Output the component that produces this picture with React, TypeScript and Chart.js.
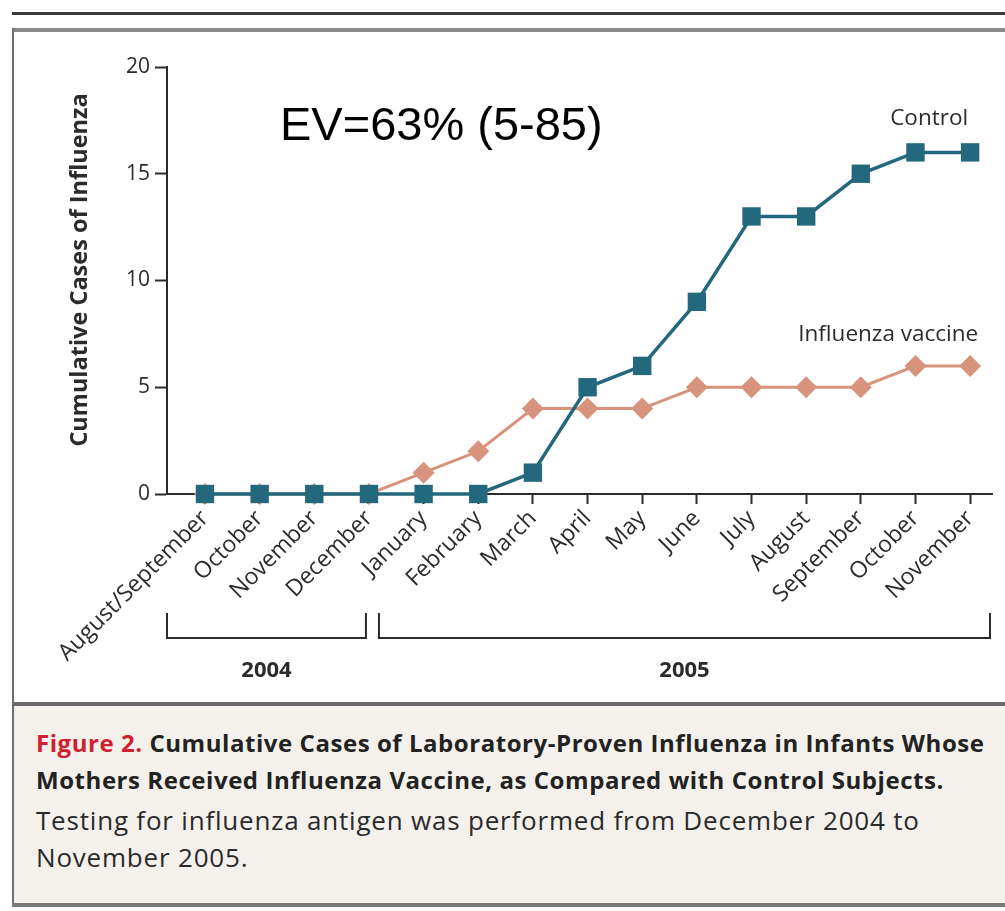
import React, { useEffect, useRef } from "react";
import { Chart, registerables } from "chart.js";

Chart.register(...registerables);

// ---- data ----
const months = [
  "August/September",
  "October",
  "November",
  "December",
  "January",
  "February",
  "March",
  "April",
  "May",
  "June",
  "July",
  "August",
  "September",
  "October",
  "November",
];
const controlCases = [0, 0, 0, 0, 0, 0, 1, 5, 6, 9, 13, 13, 15, 16, 16];
const vaccineCases = [0, 0, 0, 0, 1, 2, 4, 4, 4, 5, 5, 5, 5, 6, 6];
const yTicks = [0, 5, 10, 15, 20];
const yearLabels = ["2004", "2005"];
const yearLastIndex = [3, 14];
const seriesNames = ["Control", "Influenza vaccine"];
const efficacyText = "EV=63% (5-85)";
const yTitle = "Cumulative Cases of Influenza";

const TEAL = "#23687c";
const SALMON = "#d7937c";
const INK = "#2b2b2b";
const FONT = "'Open Sans', 'DejaVu Sans', sans-serif";

const overlay = {
  id: "overlay",
  afterDraw(chart: any) {
    const { ctx, chartArea } = chart;
    const xs = chart.scales.x;
    const ys = chart.scales.y;
    ctx.save();
    // y title
    ctx.fillStyle = INK;
    ctx.font = `bold 23.5px ${FONT}`;
    ctx.textAlign = "center";
    ctx.textBaseline = "middle";
    ctx.translate(80, 270);
    ctx.rotate(-Math.PI / 2);
    ctx.fillText(yTitle, 0, 0);
    ctx.restore();

    ctx.save();
    // EV text
    ctx.fillStyle = "#000";
    ctx.font = "47px 'Liberation Sans', Arial, sans-serif";
    ctx.textAlign = "left";
    ctx.textBaseline = "alphabetic";
    ctx.fillText(efficacyText, 280, 140);

    // series labels
    ctx.fillStyle = INK;
    ctx.font = `22.5px ${FONT}`;
    ctx.textAlign = "right";
    const lastX = xs.getPixelForValue(months.length - 1);
    ctx.fillText(seriesNames[0], lastX - 2, ys.getPixelForValue(controlCases[controlCases.length - 1]) - 27);
    ctx.fillText(seriesNames[1], lastX + 8, ys.getPixelForValue(vaccineCases[vaccineCases.length - 1]) - 25);

    // brackets
    ctx.strokeStyle = INK;
    ctx.lineWidth = 2;
    const top = 613;
    const bot = 638;
    const lefts = [chartArea.left, xs.getPixelForValue(yearLastIndex[0]) + 10];
    const rights = [xs.getPixelForValue(yearLastIndex[0]) - 3, chartArea.right - 2];
    ctx.font = `bold 22px ${FONT}`;
    ctx.textAlign = "center";
    ctx.textBaseline = "middle";
    ctx.fillStyle = INK;
    for (let i = 0; i < yearLabels.length; i++) {
      ctx.beginPath();
      ctx.moveTo(lefts[i], top);
      ctx.lineTo(lefts[i], bot);
      ctx.lineTo(rights[i], bot);
      ctx.lineTo(rights[i], top);
      ctx.stroke();
      ctx.fillText(yearLabels[i], (lefts[i] + rights[i]) / 2, 671);
    }
    ctx.restore();
  },
};

export default function App() {
  const ref = useRef<HTMLCanvasElement | null>(null);

  useEffect(() => {
    if (!ref.current) return;
    const chart = new Chart(ref.current, {
      type: "line",
      data: {
        datasets: [
          {
            label: seriesNames[0],
            data: controlCases.map((y, i) => ({ x: i, y })),
            borderColor: TEAL,
            backgroundColor: TEAL,
            pointBackgroundColor: TEAL,
            pointBorderWidth: 0,
            pointStyle: "rect",
            pointRadius: 13,
            borderWidth: 3.5,
            clip: false,
          },
          {
            label: seriesNames[1],
            data: vaccineCases.map((y, i) => ({ x: i, y })),
            borderColor: SALMON,
            backgroundColor: SALMON,
            pointBackgroundColor: SALMON,
            pointBorderWidth: 0,
            pointStyle: "rectRot",
            pointRadius: 11,
            borderWidth: 3,
            clip: false,
          },
        ] as any,
      },
      options: {
        animation: false,
        responsive: false,
        maintainAspectRatio: false,
        layout: { padding: { top: 67, right: 13, left: 0, bottom: 0 } },
        plugins: { legend: { display: false }, tooltip: { enabled: false } },
        scales: {
          x: {
            type: "linear",
            min: -0.695,
            max: 14.4,
            afterBuildTicks: (s: any) => {
              s.ticks = months.map((_, i) => ({ value: i }));
            },
            afterFit: (s: any) => {
              s.height = 208;
            },
            ticks: {
              autoSkip: false,
              minRotation: 45,
              maxRotation: 45,
              padding: 1,
              color: INK,
              font: { family: FONT, size: 23 },
              callback: (v: any) => months[v as number],
            },
            grid: {
              drawOnChartArea: false,
              drawTicks: true,
              tickLength: 10,
              tickWidth: 2,
              color: INK,
            },
            border: { display: true, color: INK, width: 2 },
          },
          y: {
            min: 0,
            max: 20,
            afterBuildTicks: (s: any) => {
              s.ticks = yTicks.map((v) => ({ value: v }));
            },
            afterFit: (s: any) => {
              s.width = 167;
            },
            ticks: {
              padding: 5,
              color: INK,
              font: { family: FONT, size: 21 },
            },
            grid: {
              drawOnChartArea: false,
              drawTicks: true,
              tickLength: 12,
              tickWidth: 2,
              color: INK,
            },
            border: { display: true, color: INK, width: 2 },
          },
        },
      } as any,
      plugins: [overlay],
    });
    return () => chart.destroy();
  }, []);

  const captionBold: React.CSSProperties = {
    fontFamily: "'Open Sans', sans-serif",
    fontWeight: 700,
    fontSize: 24,
    letterSpacing: "0.55px",
    color: "#222",
    lineHeight: "37px",
    whiteSpace: "nowrap",
  };
  const captionReg: React.CSSProperties = {
    fontFamily: "'Open Sans', sans-serif",
    fontWeight: 400,
    fontSize: 26,
    letterSpacing: "0.8px",
    color: "#2a2a2a",
    lineHeight: "37px",
    whiteSpace: "nowrap",
  };

  return (
    <div style={{ position: "absolute", left: 0, top: 0, width: 1005, height: 911, background: "#fff", overflow: "hidden" }}>
      {/* top rule */}
      <div style={{ position: "absolute", left: 12, right: 0, top: 12, height: 3, background: "#3a3a3a" }} />
      {/* box top */}
      <div style={{ position: "absolute", left: 12, right: 0, top: 28, height: 4, background: "#8a8a8a" }} />
      {/* box left */}
      <div style={{ position: "absolute", left: 12, width: 2, top: 28, height: 879, background: "#6e6e6e" }} />
      {/* caption separator */}
      <div style={{ position: "absolute", left: 12, right: 0, top: 702, height: 4, background: "#6a6a6a" }} />
      {/* caption area */}
      <div style={{ position: "absolute", left: 14, right: 0, top: 706, height: 197, background: "#f4f1ec" }}>
        <div style={{ position: "absolute", left: 22, top: 18 }}>
          <div style={captionBold}>
            <span style={{ color: "#d0202e" }}>Figure 2.</span> Cumulative Cases of Laboratory-Proven Influenza in Infants Whose
          </div>
          <div style={captionBold}>Mothers Received Influenza Vaccine, as Compared with Control Subjects.</div>
          <div style={{ ...captionReg, marginTop: 4 }}>Testing for influenza antigen was performed from December 2004 to</div>
          <div style={captionReg}>November 2005.</div>
        </div>
      </div>
      {/* bottom border */}
      <div style={{ position: "absolute", left: 12, right: 0, top: 903, height: 4, background: "#7a7a7a" }} />
      <canvas ref={ref} width={1005} height={702} style={{ position: "absolute", left: 0, top: 0, width: 1005, height: 702 }} />
    </div>
  );
}
